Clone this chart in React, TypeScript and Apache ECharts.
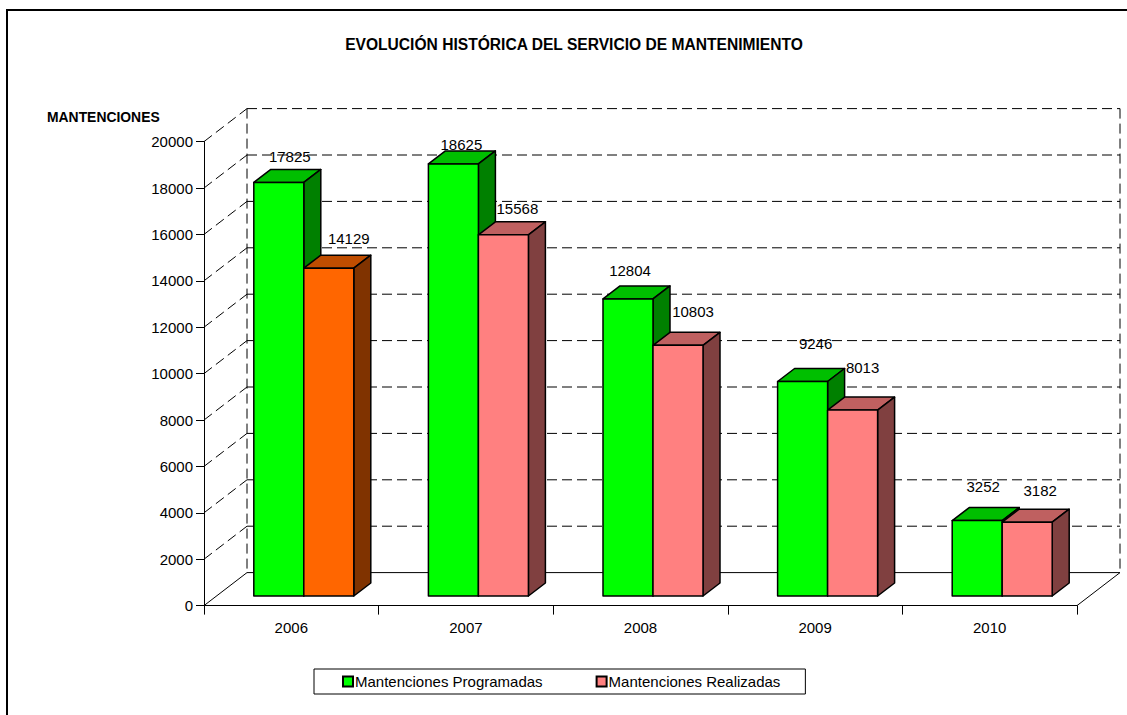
import React, { useEffect, useRef } from "react";
import * as echarts from "echarts";

const categories = ["2006", "2007", "2008", "2009", "2010"];
const programadas = [17825, 18625, 12804, 9246, 3252];
const realizadas = [14129, 15568, 10803, 8013, 3182];
const yTicks = [0, 2000, 4000, 6000, 8000, 10000, 12000, 14000, 16000, 18000, 20000];
const seriesNames = ["Mantenciones Programadas", "Mantenciones Realizadas"];
const title = "EVOLUCIÓN HISTÓRICA DEL SERVICIO DE MANTENIMIENTO";
const yTitle = "MANTENCIONES";

// [front, top, side]
const GREEN = ["#00FF00", "#00BF00", "#008000"];
const PINK = ["#FF8080", "#BF6060", "#804040"];
const ORANGE = ["#FF6600", "#BF4D00", "#803300"];

// label offsets from the front-top centre of each bar (hand placed in the reference)
const progLabelOffset = [[11, -26], [8, -19], [2, -28], [13, -38], [6, -34]];
const realLabelOffset = [[20, -30], [14, -26], [15, -34], [10, -43], [13, -32]];

const WALL_DX = 43;
const WALL_DY = -33;
const BAR_DX = 12.5;
const BAR_DY = -9.6;
const DEPTH_DX = 17;
const DEPTH_DY = -13;
const BAR_W = 50;
const FONT = "Liberation Sans, Arial, sans-serif";
const DASH = [10, 5];

function wallRender(params: any, api: any) {
  const v = api.value(1);
  const cs = params.coordSys;
  const y = api.coord([0, v])[1];
  const x0 = cs.x;
  const x1 = cs.x + cs.width;
  const dashed = v !== 0;
  const ls = { stroke: "#000", lineWidth: 1, fill: "none", lineDash: dashed ? DASH : undefined };
  const children: any[] = [
    { type: "line", shape: { x1: x0, y1: y, x2: x0 + WALL_DX, y2: y + WALL_DY }, style: ls },
    { type: "line", shape: { x1: x0 + WALL_DX, y1: y + WALL_DY, x2: x1 + WALL_DX, y2: y + WALL_DY }, style: ls },
  ];
  if (v === 0) {
    const topY = cs.y + WALL_DY;
    const vs = { stroke: "#000", lineWidth: 1, fill: "none", lineDash: DASH };
    children.push(
      { type: "line", shape: { x1: x1, y1: y, x2: x1 + WALL_DX, y2: y + WALL_DY }, style: { stroke: "#000", lineWidth: 1 } },
      { type: "line", shape: { x1: x0 + WALL_DX, y1: topY, x2: x0 + WALL_DX, y2: y + WALL_DY }, style: vs },
      { type: "line", shape: { x1: x1 + WALL_DX, y1: topY, x2: x1 + WALL_DX, y2: y + WALL_DY }, style: vs },
    );
  }
  return { type: "group", children };
}

function barRender(seriesIdx: number) {
  return (params: any, api: any) => {
    const idx = api.value(0);
    const v = api.value(1);
    const [cx, top0] = api.coord([idx, v]);
    const [, bot0] = api.coord([idx, 0]);
    const left = cx + BAR_DX + (seriesIdx === 0 ? -BAR_W : 0);
    const right = left + BAR_W;
    const top = top0 + BAR_DY;
    const bot = bot0 + BAR_DY;
    const pal = seriesIdx === 0 ? GREEN : idx === 0 ? ORANGE : PINK;
    const off = (seriesIdx === 0 ? progLabelOffset : realLabelOffset)[idx];
    const edge = { stroke: "#000", lineWidth: 1.5, lineJoin: "round" };
    return {
      type: "group",
      children: [
        { type: "polygon", shape: { points: [[left, top], [right, top], [right + DEPTH_DX, top + DEPTH_DY], [left + DEPTH_DX, top + DEPTH_DY]] }, style: { fill: pal[1], ...edge } },
        { type: "polygon", shape: { points: [[right, top], [right + DEPTH_DX, top + DEPTH_DY], [right + DEPTH_DX, bot + DEPTH_DY], [right, bot]] }, style: { fill: pal[2], ...edge } },
        { type: "rect", shape: { x: left, y: top, width: BAR_W, height: bot - top }, style: { fill: pal[0], ...edge } },
        {
          type: "text",
          z2: 100,
          style: {
            text: String(v),
            x: (left + right) / 2 + off[0],
            y: top + off[1],
            fill: "#000",
            font: `15px ${FONT}`,
            align: "center",
            verticalAlign: "middle",
          },
        },
      ],
    };
  };
}

export default function App() {
  const ref = useRef<HTMLDivElement>(null);
  useEffect(() => {
    const chart = echarts.init(ref.current!, null, { renderer: "svg" });
    chart.setOption({
      animation: false,
      backgroundColor: "#fff",
      textStyle: { fontFamily: FONT },
      title: [
        { text: title, left: 569, top: 31, padding: 5, textAlign: "center", textStyle: { fontFamily: FONT, fontSize: 15.6, fontWeight: "bold", color: "#000" } },
        { text: yTitle, left: 42, top: 105, textStyle: { fontFamily: FONT, fontSize: 13.9, fontWeight: "bold", color: "#000" } },
      ],
      graphic: [
        { type: "rect", z: -10, shape: { x: 7, y: 10, width: 1300, height: 900 }, style: { fill: "none", stroke: "#000", lineWidth: 2 } },
      ],
      legend: {
        data: seriesNames,
        left: 314,
        top: 669,
        orient: "horizontal",
        icon: "rect",
        itemWidth: 10,
        itemHeight: 10,
        itemGap: 53,
        padding: [5, 25, 5, 28],
        borderColor: "#000",
        borderWidth: 1,
        textStyle: { fontFamily: FONT, fontSize: 15, color: "#000", padding: [0, 0, 0, -3] },
      },
      grid: { left: 204, top: 141.6, width: 873, height: 464, containLabel: false },
      xAxis: {
        type: "category",
        data: categories,
        boundaryGap: true,
        axisLine: { lineStyle: { color: "#000", width: 1 } },
        axisTick: { show: true, length: 9, alignWithLabel: false, lineStyle: { color: "#000" } },
        axisLabel: { color: "#000", fontFamily: FONT, fontSize: 15, margin: 14 },
        splitLine: { show: false },
      },
      yAxis: {
        type: "value",
        min: 0,
        max: 20000,
        interval: 2000,
        axisLine: { show: true, lineStyle: { color: "#000", width: 1 } },
        axisTick: { show: true, length: 8, lineStyle: { color: "#000" } },
        axisLabel: { color: "#000", fontFamily: FONT, fontSize: 15, margin: 11, formatter: (v: number) => String(v) },
        splitLine: { show: false },
      },
      series: [
        {
          type: "custom",
          silent: true,
          z: 1,
          clip: false,
          encode: { x: 0, y: 1 },
          data: yTicks.map((t) => [0, t]),
          renderItem: wallRender,
        },
        {
          type: "custom",
          name: seriesNames[0],
          z: 3,
          clip: false,
          itemStyle: { color: GREEN[0], borderColor: "#000", borderWidth: 1.5 },
          encode: { x: 0, y: 1 },
          data: programadas.map((v, i) => [i, v]),
          renderItem: barRender(0),
        },
        {
          type: "custom",
          name: seriesNames[1],
          z: 4,
          clip: false,
          itemStyle: { color: PINK[0], borderColor: "#000", borderWidth: 1.5 },
          encode: { x: 0, y: 1 },
          data: realizadas.map((v, i) => [i, v]),
          renderItem: barRender(1),
        },
      ],
    });
    return () => chart.dispose();
  }, []);
  return <div ref={ref} style={{ position: "absolute", left: 0, top: 0, width: 1127, height: 715 }} />;
}
